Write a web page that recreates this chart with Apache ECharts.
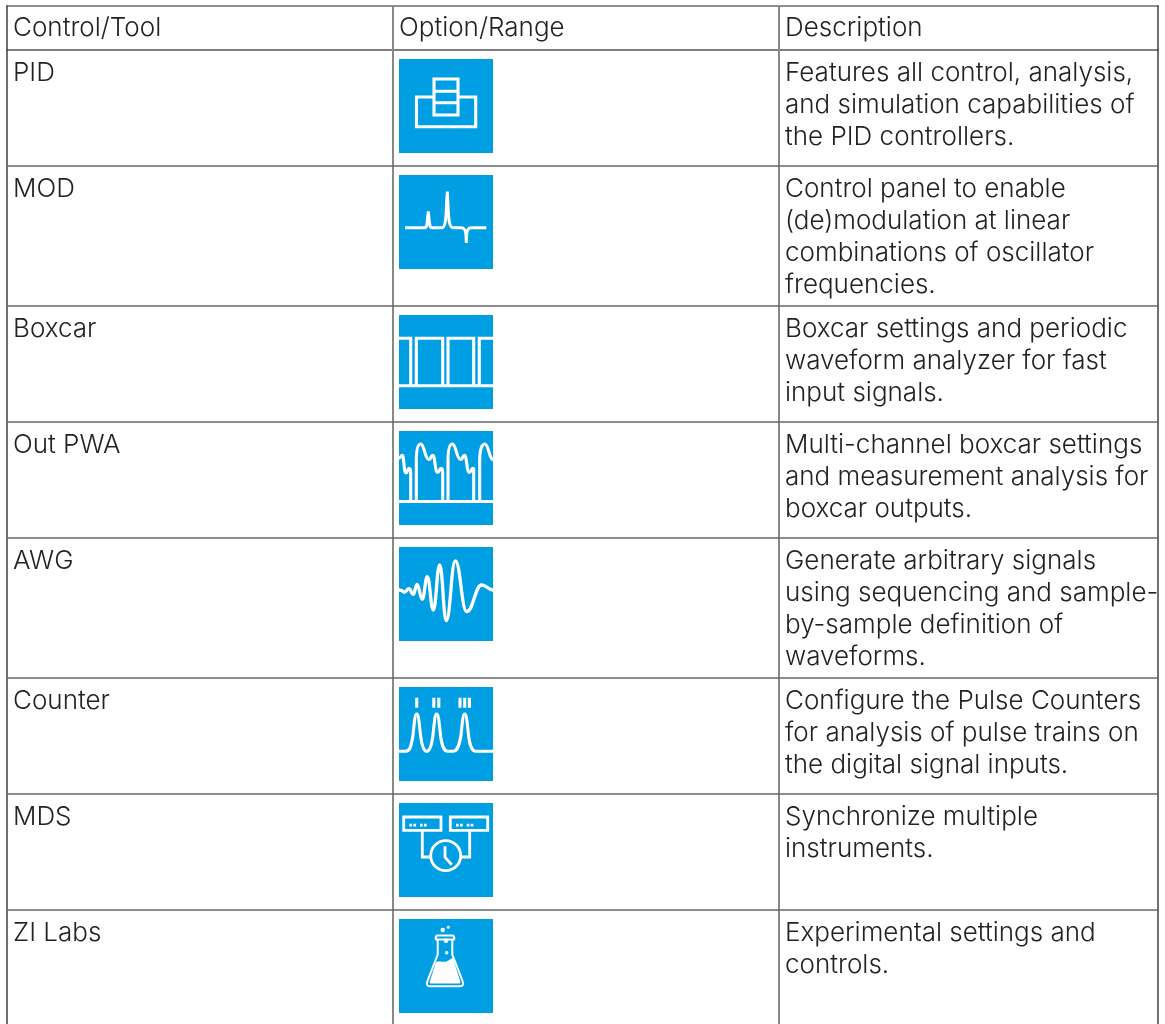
<!DOCTYPE html>
<html><head><meta charset="utf-8">
<style>html,body{margin:0;padding:0;background:#fff}#c{width:1165px;height:1024px}</style>
<script src="https://cdn.jsdelivr.net/npm/echarts@6/dist/echarts.min.js"></script></head>
<body><div id="c"></div>
<script>
const headers = ['Control/Tool', 'Option/Range', 'Description'];
const tools = ['PID', 'MOD', 'Boxcar', 'Out PWA', 'AWG', 'Counter', 'MDS', 'ZI Labs'];
const descriptions = [
  ['Features all control, analysis,', 'and simulation capabilities of', 'the PID controllers.'],
  ['Control panel to enable', '(de)modulation at linear', 'combinations of oscillator', 'frequencies.'],
  ['Boxcar settings and periodic', 'waveform analyzer for fast', 'input signals.'],
  ['Multi-channel boxcar settings', 'and measurement analysis for', 'boxcar outputs.'],
  ['Generate arbitrary signals', 'using sequencing and sample-', 'by-sample definition of', 'waveforms.'],
  ['Configure the Pulse Counters', 'for analysis of pulse trains on', 'the digital signal inputs.'],
  ['Synchronize multiple', 'instruments.'],
  ['Experimental settings and', 'controls.']
];
const FONT = '300 26px Inter, "Noto Sans", sans-serif';
const TEXT = '#222', BLUE = '#009fe3';
const colX = [7, 393, 779, 1158];
const HEAD_H = 44, TOP = 6, LINE = 32;

function wave(pts) {
  let d = 'M' + pts[0][0] + ',' + pts[0][1];
  for (let i = 1; i < pts.length; i++) {
    const [a, b] = pts[i - 1], [c, e] = pts[i], m = (c - a) * 0.45;
    d += 'C' + (a + m) + ',' + b + ' ' + (c - m) + ',' + e + ' ' + c + ',' + e;
  }
  return d;
}
const circ = (x, y, r) => `M${x - r},${y}a${r},${r} 0 1 0 ${2 * r},0a${r},${r} 0 1 0 ${-2 * r},0Z`;
const iconPaths = {
  PID: ['M35,20H59V56H35Z M35,32.3H59 M35,43.7H59 M35,38H17.5V67.7H76.7V38H59'],
  MOD: ['M6,52.7H25C28,52.7 28,50 28.5,44 L29.3,36.5 L30,44 C30.6,50 31,52.7 33,52.7 H43 C46,52.7 47,45 47.5,30 L48.3,16.5 L49,30 C49.5,45 50.5,52.7 54,52.7 H62 C65,52.7 66.5,54 67,60 L67.3,68 L67.6,60 C68,54 69.5,52.7 72,52.7 H87.3'],
  Boxcar: ['M0,23.3H11.7V70.7 M17.3,70.7V23.3H43.7V70.7 M49,70.7V23.3H74.7V70.7 M80.3,70.7V23.3H94 M0,70.7H94'],
  'Out PWA': [
    'M0,70.5H94',
    'M0,27 C1.5,27 2,24.3 3.3,24.3 C5,24.3 4.8,42 7,42 C8.6,42 8.6,37.3 10,37.3 C11.2,37.3 11.7,39 11.7,42 V70.5',
    'M17.3,70.5 V30 C17.3,18 19,13 21.7,13 C25.3,13 25.8,28 29.8,28.5 C32.3,28.5 31.8,24.3 33.7,24.3 C36.3,24.3 35.8,41.5 38.7,41.5 C40.3,41.5 40.3,37.3 42.3,37.3 C43.3,37.3 43.7,39 43.7,42 V70.5',
    'M49,70.5 V30 C49,18 50.7,13 53.4,13 C57,13 57.5,28 61.5,28.5 C64,28.5 63.5,24.3 65.4,24.3 C68,24.3 67.5,41.5 70.4,41.5 C72,41.5 72,37.3 74,37.3 C75,37.3 74.7,39 74.7,42 V70.5',
    'M80.7,70.5 V30 C80.7,18 83,13 86,13 C89.5,13 90,27.5 94,29'
  ],
  AWG: [wave([[0,43],[2.5,43.5],[5.3,45.3],[10,41.7],[14.3,47.3],[18,37.3],[23.3,52.3],[28.3,29.7],[34.3,63],[40.7,18],[47.3,73.7],[56.3,14],[67.7,64.7],[82.7,38],[94,43]])],
  Counter: [
    'M0,64.3H6C10,64.3 12,62 14,48 C15.5,34 16,27 17.7,27 C19.4,27 20,34 21.5,48 C23,60 25,64.3 27.7,64.3 C30.5,64.3 32.5,60 34,48 C35.5,34 36,27 37.7,27 C39.4,27 40,34 41.5,48 C43,60 45,64.3 49,64.3 H54 C58,64.3 60,60 62,48 C63.5,34 64,27 65.7,27 C67.4,27 68,34 69.5,48 C71,60 73,64.3 77,64.3 H94',
    'M17.7,10.7V20.7 M34.8,10.7V20.7 M39.8,10.7V20.7 M61,10.7V20.7 M65.7,10.7V20.7 M70.4,10.7V20.7'
  ],
  MDS: [
    'M4.7,14H42V27.3H4.7Z M51.3,14H88.7V27.3H51.3Z',
    'M23.3,27.3V54H32.7 M70.7,27.3V54H61.3',
    'M61.7,52.7A15,15 0 1 1 31.7,52.7A15,15 0 1 1 61.7,52.7Z',
    'M46,43.3V54.3L52.7,61.7'
  ],
  'ZI Labs': [
    'M38.7,20.5V35.5L28.6,61.7Q26.4,67.3 31,67.3H61Q65.6,67.3 63.4,61.7L53.3,35.5V20.5',
    'M38.7,20.5H37Q36,18 38,16.5H54Q56,18 55,20.5H38.7'
  ]
};
const iconFill = {
  MDS: ['M10.4,20.8h2.7v2.7h-2.7Z M14.4,20.8h2.7v2.7h-2.7Z M21,20.8h2.7v2.7h-2.7Z M25,20.8h2.7v2.7h-2.7Z M57,20.8h2.7v2.7h-2.7Z M61,20.8h2.7v2.7h-2.7Z M67.7,20.8h2.7v2.7h-2.7Z M71.7,20.8h2.7v2.7h-2.7Z'],
  'ZI Labs': [
    'M37,43C42,41.5 45,44 48.5,42C50.5,41 52,39.5 53.8,38.7L61.3,62.5Q61.8,64.6 59.5,64.6H32.5Q30.2,64.6 30.8,62.5Z',
    circ(47, 21.7, 2.3), circ(47.7, 33.7, 1.7), circ(43.7, 11, 2.2), circ(49.3, 8.3, 1.5)
  ]
};
const iconStroke = { PID: [3.1], Boxcar: [3.1], Counter: [3.1, 3.1], MDS: [2.8, 2.8, 2.8, 2.8], 'ZI Labs': [2, 2], MOD: [3], 'Out PWA': [3, 3.1, 3.1, 3.1, 3.1], AWG: [3.3] };

const rowH = descriptions.map(d => Math.max(116, 12 + LINE * d.length));
const rowTop = []; rowH.reduce((y, h, i) => (rowTop[i] = y, y + h), TOP + HEAD_H);

function renderRow(params, api) {
  const i = api.value(0);
  const P = (x, y) => api.coord([x, y]);
  const txt = (s, x, y) => { const p = P(x, y); return { type: 'text', x: p[0], y: p[1], silent: true, style: { text: s, font: FONT, fill: TEXT, textBaseline: 'middle', textVerticalAlign: 'middle' } }; };
  const hline = (y, c, h) => { const a = P(colX[0], y), b = P(colX[3], y); return { type: 'rect', shape: { x: a[0] - 0.5, y: a[1] - h / 2, width: b[0] - a[0] + 1, height: h }, style: { fill: c } }; };
  const vline = (x, c, w) => { const a = P(x, TOP), b = P(x, 1024); return { type: 'rect', shape: { x: a[0] - w / 2, y: a[1] - 0.5, width: w, height: b[1] - a[1] + 1 }, style: { fill: c } }; };
  const kids = [];
  if (i === 0) {
    kids.push(hline(TOP, '#222', 1));
    headers.forEach((h, c) => kids.push(txt(h, colX[c] + 6, TOP + 22)));
    kids.push(hline(TOP + HEAD_H, '#555', 1.4));
    kids.push(vline(colX[0], '#333', 1.4), vline(colX[1], '#888', 2), vline(colX[2], '#888', 2), vline(colX[3], '#333', 1.4));
  }
  const top = rowTop[i], name = tools[i];
  kids.push(hline(top + rowH[i], '#666', 1.5));
  kids.push(txt(name, colX[0] + 6, top + 23));
  descriptions[i].forEach((l, k) => kids.push(txt(l, colX[2] + 6, top + 23 + k * LINE)));
  const o = P(colX[1] + 6, top + 9);
  kids.push({ type: 'rect', shape: { x: o[0], y: o[1], width: 94, height: 94 }, style: { fill: BLUE } });
  const sw = iconStroke[name] || [];
  iconPaths[name].forEach((d, k) => kids.push({
    type: 'path', x: o[0], y: o[1], shape: { pathData: d, layout: 'none' },
    style: { fill: 'none', stroke: '#fff', lineWidth: sw[k] || 3, lineJoin: 'miter' }
  }));
  (iconFill[name] || []).forEach(d => kids.push({
    type: 'path', x: o[0], y: o[1], shape: { pathData: d, layout: 'none' }, style: { fill: '#fff' }
  }));
  return { type: 'group', children: kids };
}

const chart = echarts.init(document.getElementById('c'), null, { renderer: 'canvas' });
chart.setOption({
  animation: false,
  backgroundColor: '#fff',
  grid: { left: 0, right: 0, top: 0, bottom: 0 },
  xAxis: { type: 'value', min: 0, max: 1165, show: false },
  yAxis: { type: 'value', min: 0, max: 1024, inverse: true, show: false },
  series: [{ type: 'custom', coordinateSystem: 'cartesian2d', clip: true, silent: true,
    data: tools.map((t, i) => [i]), encode: { x: 0, y: 0 }, renderItem: renderRow }]
});
</script></body></html>
